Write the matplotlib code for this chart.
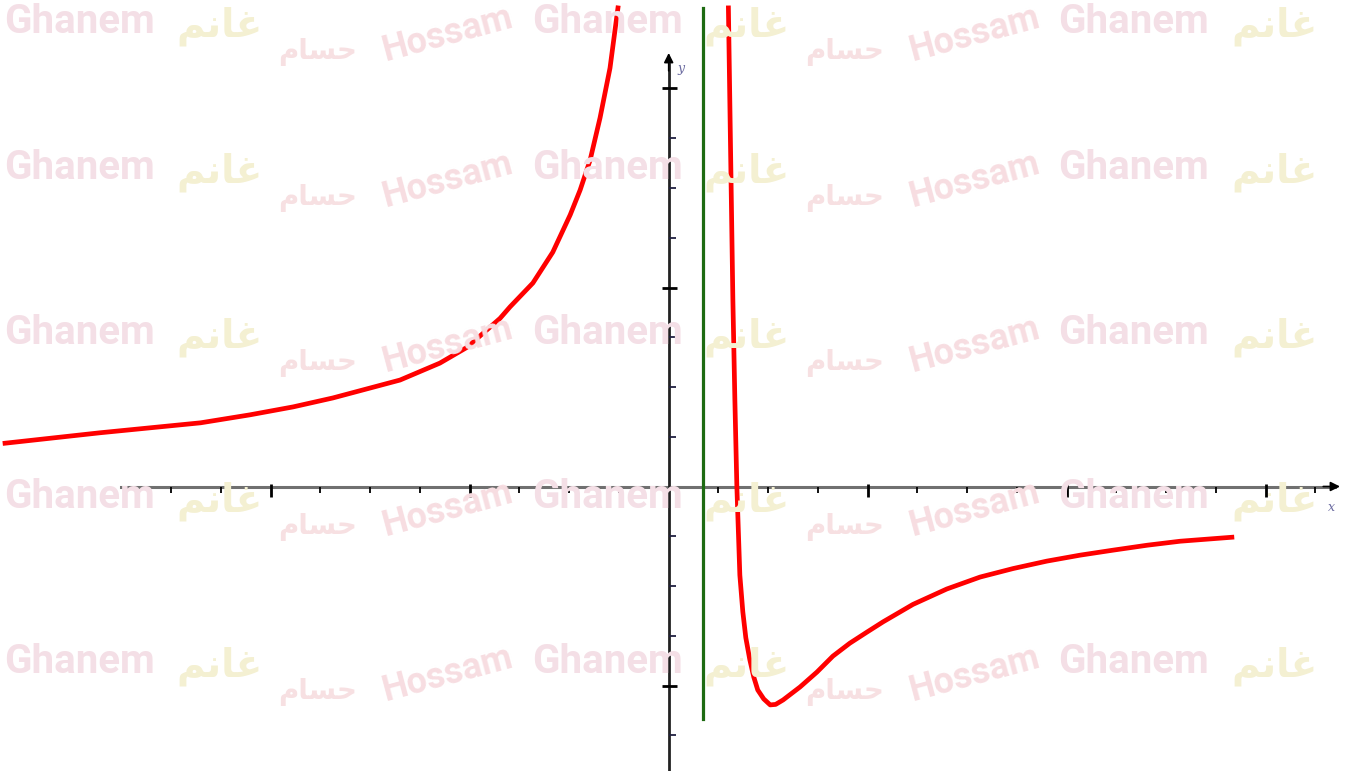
import matplotlib.pyplot as plt

# red curve (left and right of the vertical asymptote)
left_x = [-13.34, -11.43, -9.41, -8.42, -7.55, -6.75, -5.40, -4.60, -4.05, -3.39,
          -3.19, -2.73, -2.33, -1.98, -1.78, -1.58, -1.38, -1.18, -1.02]
left_y = [0.87, 1.08, 1.28, 1.44, 1.60, 1.78, 2.14, 2.48, 2.80, 3.38,
          3.61, 4.09, 4.71, 5.46, 5.96, 6.56, 7.41, 8.41, 9.62]

right_x = [1.20, 1.24, 1.29, 1.33, 1.37, 1.43, 1.49, 1.55, 1.63, 1.71,
           1.79, 1.91, 2.04, 2.15, 2.30, 2.64, 2.98, 3.30, 3.64, 3.98,
           4.31, 4.91, 5.59, 6.26, 6.92, 7.60, 8.27, 8.93, 9.62, 10.28, 11.32]
right_y = [9.62, 7.00, 3.75, 1.74, 0.0, -1.78, -2.52, -3.04, -3.48, -3.83,
           -4.09, -4.27, -4.39, -4.38, -4.29, -4.03, -3.73, -3.41, -3.15, -2.93,
           -2.72, -2.37, -2.06, -1.82, -1.65, -1.50, -1.38, -1.28, -1.18, -1.10, -1.02]

# vertical asymptote
asym_x = 0.68
asym_y = [-4.67, 9.62]

# axis ticks
x_minor = [i for i in range(-10, 14) if i != 0 and i % 4 != 0]
x_major = [-8, -4, 4, 8, 12]
y_minor = [-5, -3, -2, -1, 1, 2, 3, 5, 6, 7]
y_major = [-4, 4, 8]

# watermark words (Arabic written with presentation forms, left to right)
wm_ghanem = "Ghanem"
wm_ghanem_ar = "\ufee2\ufee7\ufe8e\ufecf"
wm_hossam_ar = "\ufee1\ufe8e\ufeb4\ufea3"
wm_hossam = "Hossam"
wm_rows = [22, 168, 333, 497, 662]
wm_cols = [0, 527, 1054]

W, H = 1357, 771
fig = plt.figure(figsize=(13.57, 7.71), dpi=100)
fig.patch.set_facecolor("white")

latin = ["Roboto", "DejaVu Sans"]
for yr in wm_rows:
    for x0 in wm_cols:
        fig.text((x0 + 80) / W, 1 - yr / H, wm_ghanem, ha="center", va="center",
                 fontsize=29, fontweight="bold", color="#f4dfe6", family=latin, zorder=0)
        fig.text((x0 + 220) / W, 1 - (yr + 4) / H, wm_ghanem_ar, ha="center", va="center",
                 fontsize=28, fontweight="bold", color="#f4f0d2", family=["DejaVu Sans"], zorder=0)
        if x0 + 325 < 1320:
            fig.text((x0 + 318) / W, 1 - (yr + 30) / H, wm_hossam_ar, ha="center", va="center",
                     fontsize=20, fontweight="bold", color="#f7e0e2", family=["DejaVu Sans"], zorder=0)
            fig.text((x0 + 448) / W, 1 - (yr + 12) / H, wm_hossam, ha="center", va="center",
                     fontsize=26, fontweight="bold", color="#f7dde1", rotation=15,
                     family=latin, zorder=0)

ax = fig.add_axes([0, 0, 1, 1])
ax.set_xlim(-668.7 / 49.75, (W - 668.7) / 49.75)
ax.set_ylim((486.5 - H) / 49.75, 486.5 / 49.75)
ax.axis("off")
ax.patch.set_alpha(0)

# axes with arrows
ax.plot([-11, 13.4], [0, 0], color="#707070", lw=2.2, zorder=2)
ax.annotate("", xy=(13.55, 0), xytext=(13.1, 0),
            arrowprops=dict(arrowstyle="-|>", color="black", lw=1.2, mutation_scale=14))
ax.plot([0, 0], [-5.8, 8.5], color="#222222", lw=2.0, zorder=2)
ax.annotate("", xy=(0, 8.77), xytext=(0, 8.3),
            arrowprops=dict(arrowstyle="-|>", color="black", lw=1.2, mutation_scale=14))

ax.vlines(x_minor, -0.14, 0, color="black", lw=1.3, zorder=3)
ax.vlines(x_major, -0.22, 0.06, color="black", lw=2.0, zorder=3)
ax.hlines(y_minor, 0, 0.15, color="#202040", lw=1.3, zorder=3)
ax.hlines(y_major, -0.13, 0.17, color="black", lw=2.0, zorder=3)

ax.text(0.24, 8.4, "y", color="#6a6aa0", fontsize=9, style="italic", family="serif",
        ha="center", va="center")
ax.text(13.33, -0.43, "x", color="#6a6aa0", fontsize=9, style="italic", family="serif",
        ha="center", va="center")

# asymptote and curve
ax.plot([asym_x, asym_x], asym_y, color="#1e6b12", lw=2.3, zorder=4)
ax.plot(left_x, left_y, color="#ff0000", lw=3.4, solid_joinstyle="round", zorder=5)
ax.plot(right_x, right_y, color="#ff0000", lw=3.4, solid_joinstyle="round", zorder=5)

fig.savefig("out.png", dpi=100)
